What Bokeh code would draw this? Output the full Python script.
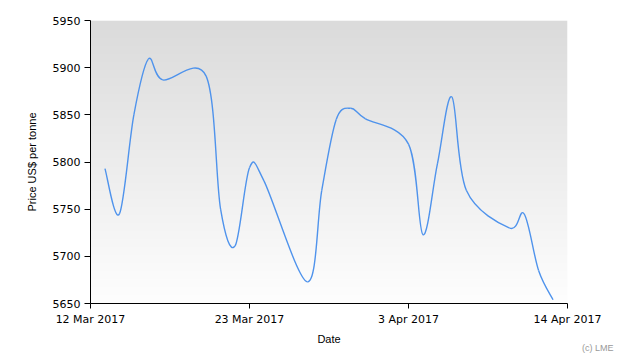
import numpy as np
import pandas as pd
from bokeh.plotting import figure
from bokeh.models import Range1d, FixedTicker, Title, ColumnDataSource
from bokeh.embed import file_html
from bokeh.resources import INLINE

# ---- data ----
dates = ["2017-03-13", "2017-03-14", "2017-03-15", "2017-03-16", "2017-03-17",
         "2017-03-20", "2017-03-21", "2017-03-22", "2017-03-23", "2017-03-24",
         "2017-03-27", "2017-03-28", "2017-03-29", "2017-03-30", "2017-03-31",
         "2017-04-03", "2017-04-04", "2017-04-05", "2017-04-06", "2017-04-07",
         "2017-04-10", "2017-04-11", "2017-04-12", "2017-04-13"]
prices = [5793, 5745, 5850, 5909, 5887,
          5891, 5750, 5711, 5794, 5780,
          5673, 5770, 5845, 5857, 5846,
          5819, 5723, 5798, 5869, 5770,
          5730, 5745, 5685, 5654]
y_ticks = [5650, 5700, 5750, 5800, 5850, 5900, 5950]
x_tick_dates = ["2017-03-12", "2017-03-23", "2017-04-03", "2017-04-14"]
x_tick_labels = ["12 Mar 2017", "23 Mar 2017", "3 Apr 2017", "14 Apr 2017"]
credit = "(c) LME"


def to_ms(d):
    return pd.Timestamp(d).value / 1e6


xs = np.array([to_ms(d) for d in dates])
ys = np.array(prices, dtype=float)
tick_ms = [to_ms(d) for d in x_tick_dates]

# ---- Catmull-Rom (uniform) spline as cubic Bezier segments ----
n = len(xs)
px = np.concatenate([[xs[0]], xs, [xs[-1]]])
py = np.concatenate([[ys[0]], ys, [ys[-1]]])
tx = (px[2:] - px[:-2]) / 2.0
ty = (py[2:] - py[:-2]) / 2.0
seg = ColumnDataSource(dict(
    x0=xs[:-1], y0=ys[:-1], x1=xs[1:], y1=ys[1:],
    cx0=xs[:-1] + tx[:-1] / 3.0, cy0=ys[:-1] + ty[:-1] / 3.0,
    cx1=xs[1:] - tx[1:] / 3.0, cy1=ys[1:] - ty[1:] / 3.0))

p = figure(frame_width=477, frame_height=283, x_axis_type="datetime",
           x_range=Range1d(tick_ms[0], tick_ms[-1]),
           y_range=Range1d(y_ticks[0], y_ticks[-1]),
           output_backend="svg", toolbar_location=None,
           min_border_left=90, min_border_right=55,
           min_border_top=20, min_border_bottom=56)
p.outline_line_color = None
p.xgrid.visible = False
p.ygrid.visible = False
p.background_fill_color = "white"
p.border_fill_color = "white"

# vertical gradient background of the plot area
N = 283
img = np.empty((N, 1), dtype=np.uint32)
view = img.view(dtype=np.uint8).reshape((N, 1, 4))
t = np.linspace(0, 1, N)  # 0 bottom -> 1 top
bottom_c = np.array([254, 254, 254])
top_c = np.array([219, 219, 219])
for k in range(N):
    c = bottom_c + (top_c - bottom_c) * t[k]
    view[k, 0, 0:3] = c.astype(np.uint8)
    view[k, 0, 3] = 255
p.image_rgba(image=[img], x=tick_ms[0], y=y_ticks[0],
             dw=tick_ms[-1] - tick_ms[0], dh=y_ticks[-1] - y_ticks[0])

p.bezier(x0="x0", y0="y0", x1="x1", y1="y1", cx0="cx0", cy0="cy0",
         cx1="cx1", cy1="cy1", source=seg, line_color="#4f93ec", line_width=1.4)

for ax in (p.xaxis[0], p.yaxis[0]):
    ax.axis_line_color = "black"
    ax.major_tick_line_color = "black"
    ax.minor_tick_line_color = None
    ax.major_tick_in = 0
    ax.major_label_text_font = "DejaVu Sans"
    ax.major_label_text_font_size = "11px"
    ax.major_label_text_color = "black"
    ax.major_label_standoff = 4
    ax.axis_label_text_font = "Liberation Sans"
    ax.axis_label_text_font_size = "11px"
    ax.axis_label_text_font_style = "normal"
    ax.axis_label_text_color = "black"

p.xaxis.ticker = FixedTicker(ticks=tick_ms)
p.xaxis.major_label_overrides = {tm: lab for tm, lab in zip(tick_ms, x_tick_labels)}
p.xaxis.major_tick_out = 5
p.xaxis.axis_label = "Date"
p.xaxis.axis_label_standoff = 4

p.yaxis.ticker = FixedTicker(ticks=y_ticks)
p.yaxis.major_tick_out = 6
p.yaxis.axis_label = "Price US$ per tonne"
p.yaxis.axis_label_standoff = 12

p.add_layout(Title(text=credit, align="right", offset=-46, standoff=-9,
                   vertical_align="top",
                   text_font="Liberation Sans", text_font_size="9px",
                   text_font_style="normal", text_color="#999999"), "below")

open("out.html", "w").write(file_html(p, INLINE))
